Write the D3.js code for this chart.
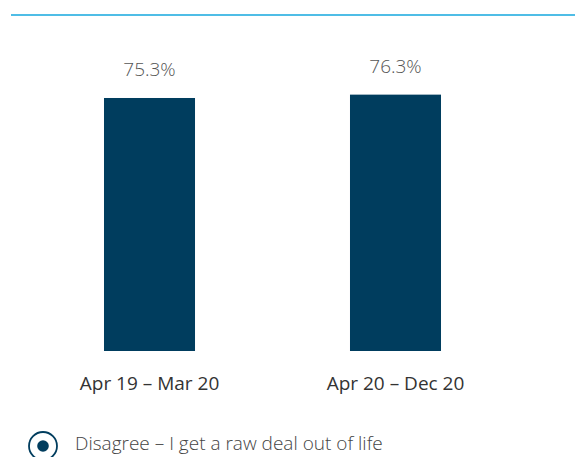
<!DOCTYPE html>
<html>
<head>
<meta charset="utf-8">
<script src="https://cdn.jsdelivr.net/npm/d3@7"></script>
<style>
  body { margin: 0; background: #fff; }
  svg { display: block; font-family: "Open Sans", "Noto Sans", sans-serif; }
</style>
</head>
<body>
<div id="chart"></div>
<script>
// Data
const periods = ["Apr 19 \u2013 Mar 20", "Apr 20 \u2013 Dec 20"];
const values = [75.3, 76.3];
const seriesName = "Disagree \u2013 I get a raw deal out of life";

const W = 575, H = 457;
const barColor = "#003d5e";

const svg = d3.select("#chart")
    .append("svg")
    .attr("width", W)
    .attr("height", H);

// Top rule
svg.append("rect")
    .attr("x", 11).attr("y", 14)
    .attr("width", W - 11).attr("height", 2)
    .attr("fill", "#4fbde6");

// Scales
const x = d3.scaleBand()
    .domain(periods)
    .range([30.2, 514.8])
    .paddingInner(0.63)
    .paddingOuter(0.3);

const y = d3.scaleLinear()
    .domain([0, 100])
    .range([351, 15]);

// Bars
svg.selectAll(".bar")
    .data(values)
    .enter().append("rect")
    .attr("class", "bar")
    .attr("x", (d, i) => x(periods[i]))
    .attr("width", x.bandwidth())
    .attr("y", d => y(d))
    .attr("height", d => y(0) - y(d))
    .attr("fill", barColor);

// Value labels
svg.selectAll(".val")
    .data(values)
    .enter().append("text")
    .attr("class", "val")
    .attr("x", (d, i) => x(periods[i]) + x.bandwidth() / 2)
    .attr("y", d => y(d) - 22)
    .attr("text-anchor", "middle")
    .style("font-size", "19px")
    .style("font-weight", 300)
    .attr("fill", "#555")
    .text(d => d.toFixed(1) + "%");

// X axis labels
const xAxis = svg.append("g")
    .attr("transform", `translate(0,${y(0)})`)
    .call(d3.axisBottom(x).tickSize(0).tickPadding(0));
xAxis.select(".domain").remove();
xAxis.selectAll("text")
    .attr("dy", null)
    .attr("y", 39)
    .style("font-size", "19px")
    .style("font-family", "'Open Sans', 'Noto Sans', sans-serif")
    .attr("fill", "#333");

// Legend
const lg = svg.append("g").attr("transform", "translate(43,446)");
lg.append("circle").attr("r", 14)
    .attr("fill", "#fff").attr("stroke", barColor).attr("stroke-width", 1.8);
lg.append("circle").attr("r", 5.8).attr("fill", barColor);
lg.append("text")
    .attr("x", 32).attr("y", 4)
    .style("font-size", "19px")
    .style("font-weight", 300)
    .attr("fill", "#444")
    .text(seriesName);
</script>
</body>
</html>
